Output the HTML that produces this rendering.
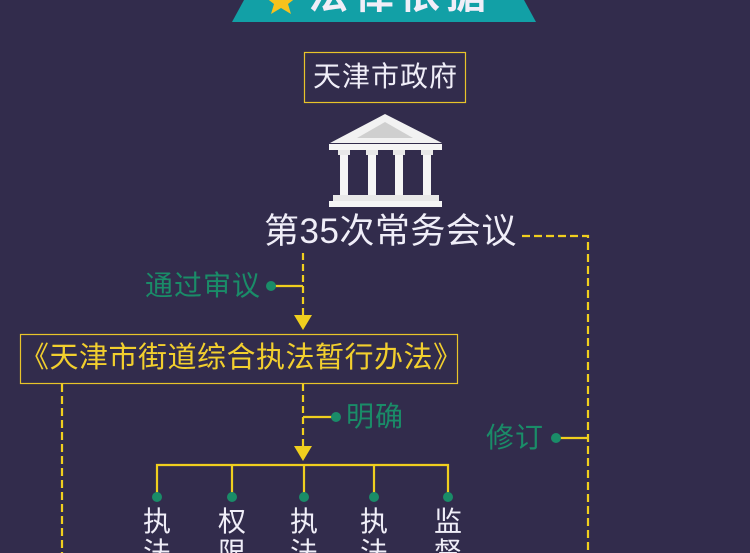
<!DOCTYPE html>
<html><head><meta charset="utf-8"><style>
html,body{margin:0;padding:0;width:750px;height:553px;overflow:hidden}
body{background:#322c4c;position:relative;font-family:"Liberation Sans","Noto Sans CJK SC",sans-serif}
.t{position:absolute;white-space:nowrap;line-height:1}
.v{position:absolute;font-size:28px;line-height:31px;height:47px;overflow:hidden;color:#f0eef8;width:28px;white-space:normal;word-break:break-all}
svg{position:absolute;left:0;top:0}
</style></head><body>
<svg width="750" height="553" viewBox="0 0 750 553">
<polygon points="244,0 524,0 536,22 232,22" fill="#12a0a6"/>
<polygon points="281,-14 285,-3 297,-3 288,4 291,14 281,8 271,14 274,4 265,-3 277,-3" fill="#f7c21d"/>
<rect x="304.5" y="52.5" width="161" height="50" fill="none" stroke="#e8c42a" stroke-width="1.2"/>
<polygon points="385,114 330,143 442,143" fill="#f2f2f2"/>
<polygon points="385,122 357,138 413,138" fill="#cfcfcf"/>
<rect x="329" y="144" width="113" height="6" fill="#f5f5f5"/>
<g fill="#e8e8e8">
<rect x="338" y="150" width="12" height="5"/><rect x="366" y="150" width="12" height="5"/><rect x="393" y="150" width="12" height="5"/><rect x="421" y="150" width="12" height="5"/>
</g>
<g fill="#f5f5f5">
<rect x="340" y="155" width="8" height="40"/><rect x="368" y="155" width="8" height="40"/><rect x="395" y="155" width="8" height="40"/><rect x="423" y="155" width="8" height="40"/>
</g>
<rect x="333" y="195" width="106" height="6" fill="#e8e8e8"/>
<rect x="329" y="201" width="113" height="6" fill="#f5f5f5"/>
<g stroke="#f0cf1e" stroke-width="2.2" fill="none">
<line x1="303" y1="253" x2="303" y2="318" stroke-dasharray="7,4"/>
<line x1="271" y1="286" x2="303" y2="286"/>
<polyline points="522,236 588,236 588,553" stroke-dasharray="8,4"/>
<line x1="556" y1="438" x2="588" y2="438"/>
<line x1="62" y1="384" x2="62" y2="553" stroke-dasharray="8,4"/>
<line x1="303" y1="384" x2="303" y2="446" stroke-dasharray="7,4"/>
<line x1="303" y1="417" x2="336" y2="417"/>
<polyline points="157,497 157,465 448,465 448,497"/>
<line x1="232" y1="465" x2="232" y2="497"/>
<line x1="304" y1="465" x2="304" y2="497"/>
<line x1="374" y1="465" x2="374" y2="497"/>
</g>
<polygon points="294,315 312,315 303,330" fill="#f0cf1e"/>
<polygon points="294,446 312,446 303,461" fill="#f0cf1e"/>
<rect x="20.5" y="334.5" width="437" height="49" fill="none" stroke="#e8c42a" stroke-width="1.2"/>
<g fill="#1a8c68">
<circle cx="271" cy="286" r="5"/><circle cx="336" cy="417" r="5"/><circle cx="556" cy="438" r="5"/>
<circle cx="157" cy="497" r="5"/><circle cx="232" cy="497" r="5"/><circle cx="304" cy="497" r="5"/><circle cx="374" cy="497" r="5"/><circle cx="448" cy="497" r="5"/>
</g>
</svg>
<div class="t" style="left:308px;top:-25px;font-size:40px;color:#f0eef8;font-weight:bold;letter-spacing:6px">法律依据</div>
<div class="t" style="left:305px;top:63px;width:161px;text-align:center;font-size:28px;color:#f0eef8;letter-spacing:1px">天津市政府</div>
<div class="t" style="left:264px;top:214px;font-size:35px;color:#f0eef8;letter-spacing:0.5px">第35次常务会议</div>
<div class="t" style="left:145px;top:272px;font-size:28px;color:#1a8c68;letter-spacing:1px">通过审议</div>
<div class="t" style="left:20px;top:344px;width:438px;text-align:center;font-size:29px;color:#f2cf2e;letter-spacing:0.5px">《天津市街道综合执法暂行办法》</div>
<div class="t" style="left:346px;top:403px;font-size:28px;color:#1a8c68;letter-spacing:1px">明确</div>
<div class="t" style="left:486px;top:424px;font-size:28px;color:#1a8c68;letter-spacing:1px">修订</div>
<div class="v" style="left:143px;top:506px">执法</div>
<div class="v" style="left:218px;top:506px">权限</div>
<div class="v" style="left:290px;top:506px">执法</div>
<div class="v" style="left:360px;top:506px">执法</div>
<div class="v" style="left:434px;top:506px">监督</div>
</body></html>
